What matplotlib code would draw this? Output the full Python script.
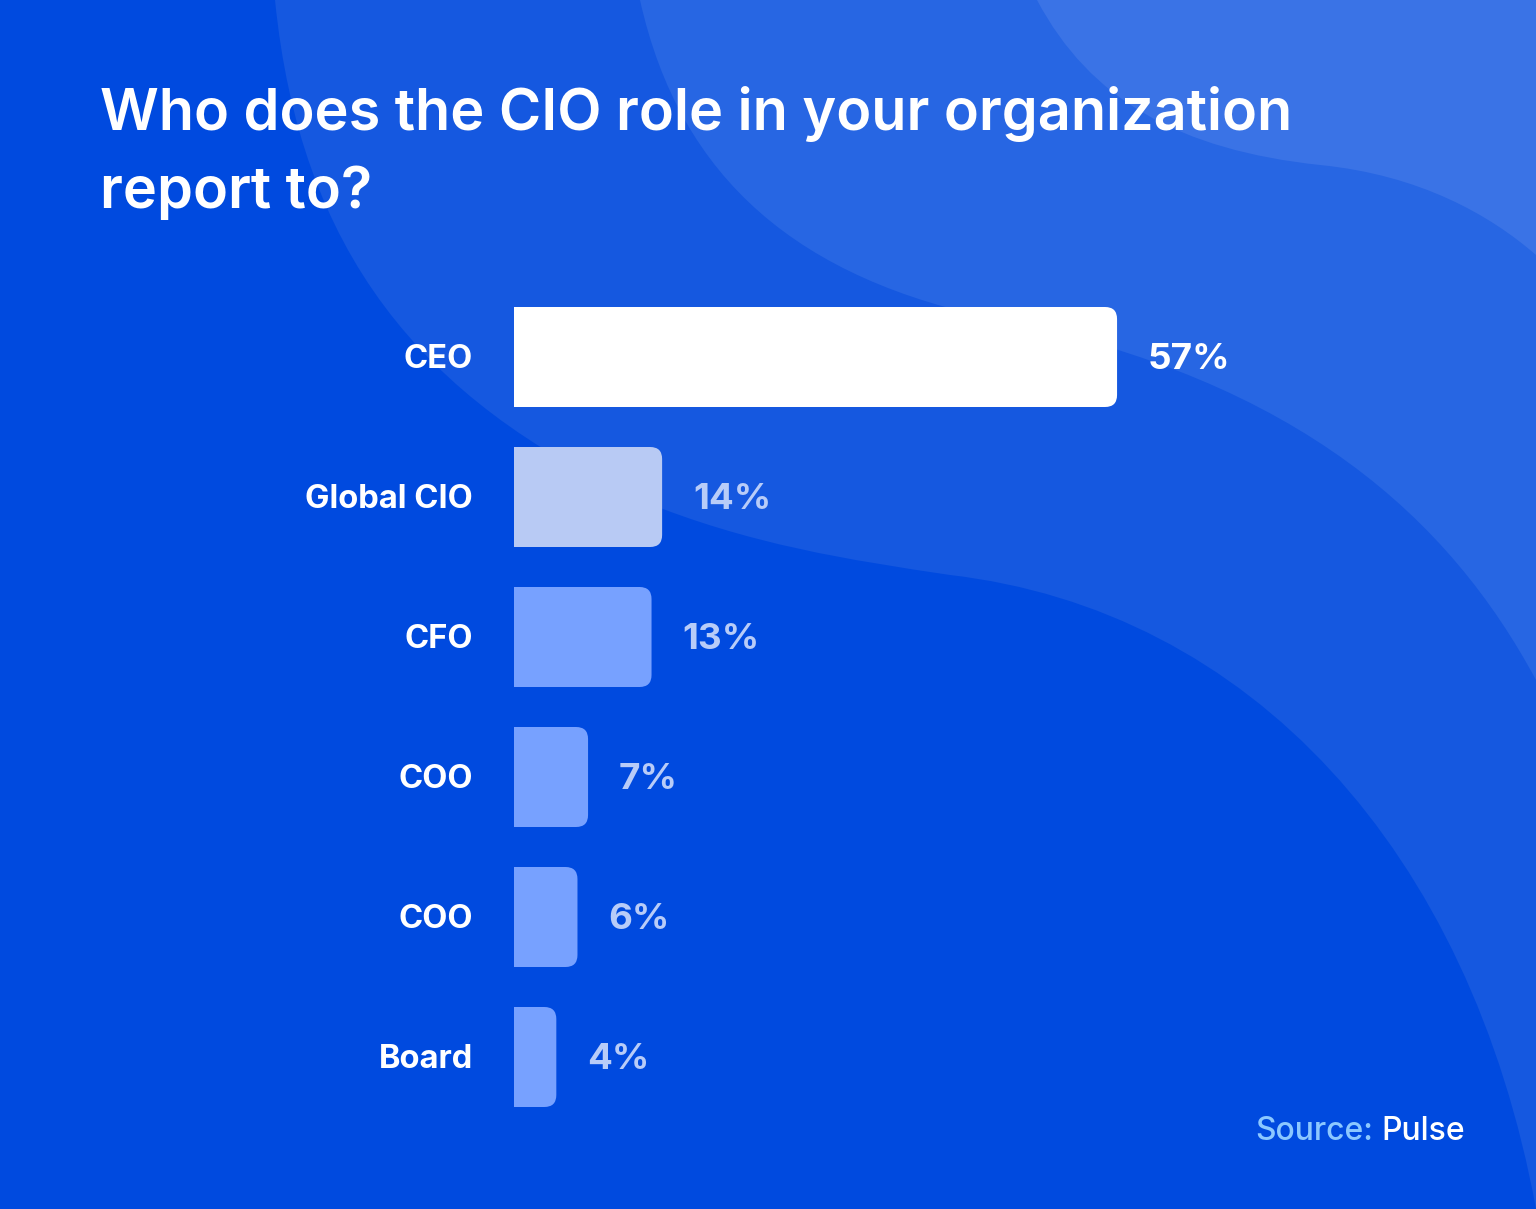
import matplotlib.pyplot as plt
from matplotlib.patches import FancyBboxPatch, Rectangle, PathPatch
from matplotlib.path import Path

plt.rcParams["font.family"] = ["Inter", "DejaVu Sans"]

# data
roles = ["CEO", "Global CIO", "CFO", "COO", "COO", "Board"]
shares = [57, 14, 13, 7, 6, 4]
bar_colors = ["#FFFFFF", "#B8CAF4", "#77A1FF", "#77A1FF", "#77A1FF", "#77A1FF"]
label_colors = ["#FFFFFF", "#B8CCF8", "#B8CCF8", "#B8CCF8", "#B8CCF8", "#B8CCF8"]
title_lines = ["Who does the CIO role in your organization", "report to?"]

W, H = 1536, 1209
fig = plt.figure(figsize=(W / 100, H / 100), dpi=100)
fig.patch.set_facecolor("#004ADF")

# background waves, drawn in pixel coords
bg = fig.add_axes([0, 0, 1, 1], zorder=0)
bg.set_xlim(0, W)
bg.set_ylim(H, 0)
bg.axis("off")

C, L = Path.CURVE4, Path.LINETO


def wave(verts, codes, color):
    p = Path(verts, [Path.MOVETO] + codes + [L, Path.CLOSEPOLY])
    bg.add_patch(PathPatch(p, fc=color, ec="none"))


wave([(275, 0), (300, 250), (420, 400), (640, 500),
      (750, 545), (850, 560), (950, 575),
      (1250, 610), (1470, 850), (1536, 1209),
      (1536, 0), (275, 0)],
     [C, C, C, C, C, C, C, C, C], "#1558E0")
wave([(640, 0), (680, 180), (800, 280), (1000, 320),
      (1300, 380), (1450, 520), (1536, 680),
      (1536, 0), (640, 0)],
     [C, C, C, C, C, C], "#2766E3")
wave([(1037, 0), (1090, 100), (1180, 150), (1320, 165),
      (1420, 175), (1490, 215), (1536, 255),
      (1536, 0), (1037, 0)],
     [C, C, C, C, C, C], "#3A73E6")

# title
for k, line in enumerate(title_lines):
    fig.text(100 / W, 1 - (130 + 78 * k) / H, line, color="white", fontsize=41.5,
             fontweight="semibold", ha="left", va="baseline")

# bar axes: 10.58 px per %, 140 px per row
px_x = 10.58
xmax = 60
left, top_px = 514, 287
ax = fig.add_axes([left / W, 1 - (top_px + 840) / H, xmax * px_x / W, 840 / H], zorder=1)
ax.set_xlim(0, xmax)
ax.set_ylim(5.5, -0.5)
ax.axis("off")

bh = 100 / 140
bars = ax.barh(range(len(roles)), shares, height=bh)
r = 12 / px_x
aspect = (12 / 140) / r
for i, b in enumerate(bars):
    x, y, w, h = b.get_x(), b.get_y(), b.get_width(), b.get_height()
    b.remove()
    ax.add_patch(FancyBboxPatch((x, y), w, h,
                                boxstyle=f"round,pad=0,rounding_size={r}",
                                mutation_aspect=aspect, fc=bar_colors[i], ec="none"))
    ax.add_patch(Rectangle((x, y), min(w / 2, 2 * r), h, fc=bar_colors[i], ec="none"))
    ax.text(w + 31 / px_x, i + 0.02, f"{shares[i]}%", color=label_colors[i],
            fontsize=26.5, fontweight="bold", va="center", ha="left")
    ax.text(-41 / px_x, i + 0.02, roles[i], color="white", fontsize=23.5,
            fontweight="bold", va="center", ha="right")

# source
t = fig.text(1465 / W, 1 - 1140 / H, "Pulse", color="white", fontsize=23,
             ha="right", va="baseline", fontweight="medium")
fig.canvas.draw()
bb = t.get_window_extent()
fig.text((bb.x0 - 8) / W, 1 - 1140 / H, "Source:", color="#8CC8FF", fontsize=23,
         ha="right", va="baseline", fontweight="medium")

fig.savefig("out.png", dpi=100, facecolor=fig.get_facecolor())
